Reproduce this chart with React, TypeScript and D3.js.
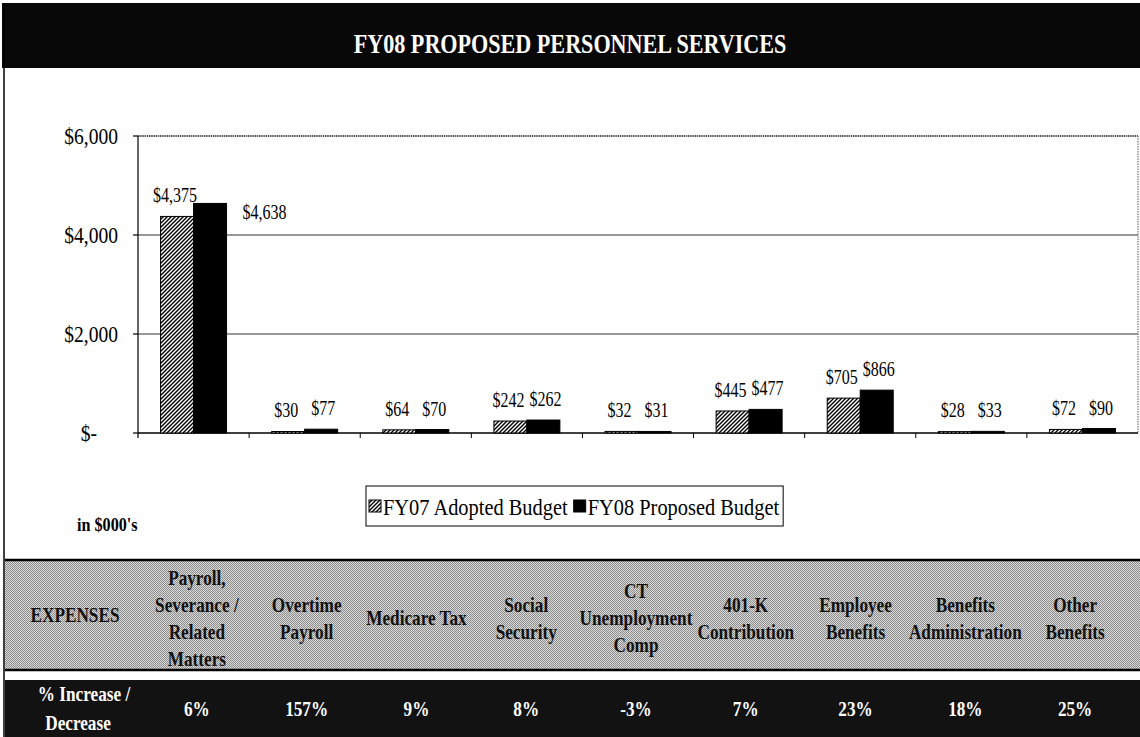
import React, { useEffect, useRef } from "react";
import * as d3 from "d3";

// chart values, in $000's
const categories = [
  "Payroll, Severance / Related Matters",
  "Overtime Payroll",
  "Medicare Tax",
  "Social Security",
  "CT Unemployment Comp",
  "401-K Contribution",
  "Employee Benefits",
  "Benefits Administration",
  "Other Benefits",
];
const headerLines = [
  ["Payroll,", "Severance /", "Related", "Matters"],
  ["Overtime", "Payroll"],
  ["Medicare Tax"],
  ["Social", "Security"],
  ["CT", "Unemployment", "Comp"],
  ["401-K", "Contribution"],
  ["Employee", "Benefits"],
  ["Benefits", "Administration"],
  ["Other", "Benefits"],
];
const seriesNames = ["FY07 Adopted Budget", "FY08 Proposed Budget"];
const fy07 = [4375, 30, 64, 242, 32, 445, 705, 28, 72];
const fy08 = [4638, 77, 70, 262, 31, 477, 866, 33, 90];
const pctChange = ["6%", "157%", "9%", "8%", "-3%", "7%", "23%", "18%", "25%"];
const yTicks = [0, 2000, 4000, 6000];

const W = 1140;
const H = 737;
const FONT = "'Liberation Serif', 'Times New Roman', serif";
const SX = 0.85; // the scan's type is narrow, squeeze it a bit

export default function App() {
  const svgRef = useRef<SVGSVGElement | null>(null);

  useEffect(() => {
    if (!svgRef.current) return;
    const svg = d3.select(svgRef.current);
    svg.selectAll("*").remove();

    const defs = svg.append("defs");
    const hatch = defs.append("pattern")
      .attr("id", "hatch")
      .attr("patternUnits", "userSpaceOnUse")
      .attr("width", 4)
      .attr("height", 4);
    hatch.append("rect").attr("width", 4).attr("height", 4).attr("fill", "#fff");
    hatch.append("path")
      .attr("d", "M-1,1 l2,-2 M0,4 l4,-4 M3,5 l2,-2")
      .attr("stroke", "#000")
      .attr("stroke-width", 1.4);

    const tone = defs.append("pattern")
      .attr("id", "halftone")
      .attr("patternUnits", "userSpaceOnUse")
      .attr("width", 2)
      .attr("height", 2);
    tone.append("rect").attr("width", 2).attr("height", 2).attr("fill", "#d8d8d8");
    tone.append("rect").attr("width", 1).attr("height", 1).attr("fill", "#8e8e8e");
    tone.append("rect").attr("x", 1).attr("y", 1).attr("width", 1).attr("height", 1).attr("fill", "#8e8e8e");

    // helper for narrow text
    const txt = (g: any, x: number, y: number, s: string, size: number, anchor = "middle", weight = "normal", fill = "#000", sx = SX) =>
      g.append("text")
        .attr("transform", `translate(${x},${y}) scale(${sx},1)`)
        .attr("text-anchor", anchor)
        .attr("font-family", FONT)
        .attr("font-size", size)
        .attr("font-weight", weight)
        .attr("fill", fill)
        .text(s);

    svg.append("rect").attr("width", W).attr("height", H).attr("fill", "#fff");

    // title band
    svg.append("rect").attr("x", 2).attr("y", 3).attr("width", W - 2).attr("height", 65).attr("fill", "#080808");
    txt(svg, W / 2, 53, "FY08 PROPOSED PERSONNEL SERVICES", 27, "middle", "bold", "#fff", 0.82);

    // page border on the left
    svg.append("line").attr("x1", 4).attr("x2", 4).attr("y1", 3).attr("y2", H)
      .attr("stroke", "#000").attr("stroke-width", 1.5);

    // chart
    const left = 138, right = 1138, top = 136, bottom = 433;
    const x0 = d3.scaleBand<string>().domain(categories).range([left, right])
      .paddingInner(0.406).paddingOuter(0.203);
    const x1 = d3.scaleBand<string>().domain(seriesNames).range([0, x0.bandwidth()]);
    const y = d3.scaleLinear().domain([0, 6000]).range([bottom, top]);
    const step = x0.step();

    const chart = svg.append("g");

    // grid
    chart.selectAll("line.grid")
      .data(yTicks.filter(t => t > 0 && t < 6000))
      .join("line")
      .attr("x1", left).attr("x2", right)
      .attr("y1", d => y(d)).attr("y2", d => y(d))
      .attr("stroke", "#333").attr("stroke-width", 1);
    chart.append("line")
      .attr("x1", left).attr("x2", right).attr("y1", y(6000)).attr("y2", y(6000))
      .attr("stroke", "#222").attr("stroke-width", 1.5).attr("stroke-dasharray", "1.5,0.7");
    chart.append("line")
      .attr("x1", right).attr("x2", right).attr("y1", top).attr("y2", bottom)
      .attr("stroke", "#777").attr("stroke-width", 1.2).attr("stroke-dasharray", "1.5,1");

    // y axis
    chart.append("line").attr("x1", left).attr("x2", left).attr("y1", top).attr("y2", bottom + 5)
      .attr("stroke", "#000").attr("stroke-width", 1.2);
    yTicks.forEach(t => {
      chart.append("line").attr("x1", left - 5).attr("x2", left).attr("y1", y(t)).attr("y2", y(t))
        .attr("stroke", "#000").attr("stroke-width", 1.2);
      const lab = t === 0 ? "$-" : d3.format("$,")(t);
      txt(chart, t === 0 ? 97 : 118, y(t) + 8, lab, 23, "end");
    });

    // x axis
    chart.append("line").attr("x1", left).attr("x2", right).attr("y1", bottom).attr("y2", bottom)
      .attr("stroke", "#000").attr("stroke-width", 1.5);
    categories.forEach((c, i) => {
      if (i === 0) return;
      const bx = (x0(c) as number) - step * x0.paddingInner() / 2;
      chart.append("line").attr("x1", bx).attr("x2", bx).attr("y1", bottom).attr("y2", bottom + 5)
        .attr("stroke", "#000").attr("stroke-width", 1);
    });

    // bars and value labels
    const fmt = d3.format("$,.0f");
    const maxVal = d3.max([...fy07, ...fy08]) as number;
    categories.forEach((c, i) => {
      [fy07[i], fy08[i]].forEach((v, s) => {
        const bx = (x0(c) as number) + (x1(seriesNames[s]) as number);
        const bw = x1.bandwidth();
        chart.append("rect")
          .attr("x", bx).attr("y", y(v))
          .attr("width", bw).attr("height", Math.max(bottom - y(v), 1.5))
          .attr("fill", s === 0 ? "url(#hatch)" : "#000")
          .attr("stroke", "#000").attr("stroke-width", 1);
        if (v === maxVal) {
          txt(chart, bx + bw + 16, y(v) + 16, fmt(v), 20, "start", "normal", "#000", 0.8);
        } else {
          // nudge the pair apart a little, as the original labels sit
          const nudge = s === 0 ? -2 : 2;
          txt(chart, bx + bw / 2 + nudge, Math.min(y(v) - 14, 417), fmt(v), 20, "middle", "normal", "#000", 0.8);
        }
      });
    });

    // units note
    txt(svg, 77, 531, "in $000's", 19, "start", "bold");

    // legend
    const lg = svg.append("g");
    const lgY = 506;
    let lx = 369;
    seriesNames.forEach((name, s) => {
      lg.append("rect").attr("x", lx).attr("y", lgY - 6).attr("width", 12).attr("height", 12)
        .attr("fill", s === 0 ? "url(#hatch)" : "#000").attr("stroke", "#000").attr("stroke-width", 1);
      const t = txt(lg, lx + 14, lgY + 9, name, 24, "start");
      const len = (t.node() as SVGTextElement).getComputedTextLength() * SX;
      lx = lx + 14 + len + 6;
    });
    lg.insert("rect", ":first-child")
      .attr("x", 366).attr("y", 486).attr("width", lx - 366 - 2).attr("height", 40)
      .attr("fill", "#fff").attr("stroke", "#000").attr("stroke-width", 1);

    // table
    const tx = d3.scaleBand<string>().domain(categories).range([142, 1130]);
    const rowTop = 560, rowBot = 670, pctTop = 680;
    svg.append("rect").attr("x", 5).attr("y", rowTop).attr("width", W - 5).attr("height", rowBot - rowTop)
      .attr("fill", "url(#halftone)");
    svg.append("line").attr("x1", 5).attr("x2", W).attr("y1", rowTop).attr("y2", rowTop)
      .attr("stroke", "#000").attr("stroke-width", 2.5);
    svg.append("line").attr("x1", 5).attr("x2", W).attr("y1", rowBot).attr("y2", rowBot)
      .attr("stroke", "#000").attr("stroke-width", 2.5);
    svg.append("rect").attr("x", 5).attr("y", pctTop).attr("width", W - 5).attr("height", H - pctTop)
      .attr("fill", "#121212");

    const headMid = (rowTop + rowBot) / 2 + 3;
    txt(svg, 75, headMid + 4, "EXPENSES", 21, "middle", "bold", "#111", 0.82);
    headerLines.forEach((lines, i) => {
      const cx = (tx(categories[i]) as number) + tx.bandwidth() / 2;
      lines.forEach((ln, k) => {
        const ly = headMid + (k - (lines.length - 1) / 2) * 27 + 7;
        txt(svg, cx, ly, ln, 21, "middle", "bold", "#111", 0.82);
      });
      txt(svg, cx, 716, pctChange[i], 21, "middle", "bold", "#fff", 0.82);
    });
    txt(svg, 84, 701, "% Increase /", 21, "middle", "bold", "#fff", 0.82);
    txt(svg, 78, 730, "Decrease", 21, "middle", "bold", "#fff", 0.82);
  }, []);

  return (
    <svg
      ref={svgRef}
      width={W}
      height={H}
      style={{ position: "absolute", left: 0, top: 0, display: "block" }}
    />
  );
}
